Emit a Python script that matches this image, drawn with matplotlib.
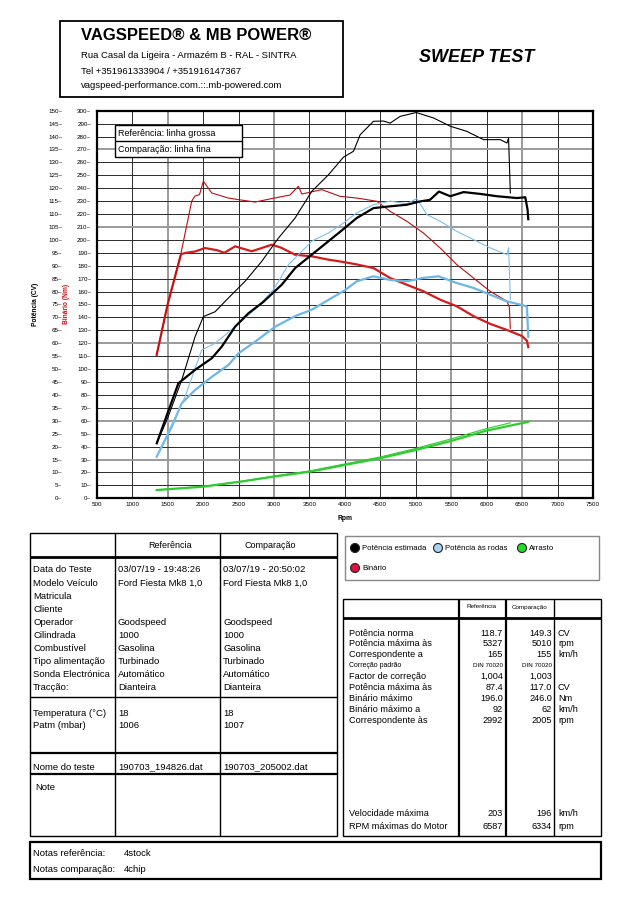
import matplotlib
matplotlib.use("Agg")
import matplotlib.pyplot as plt
from matplotlib.patches import Rectangle, Circle
from matplotlib.ticker import FuncFormatter

plt.rcParams['font.family'] = ['Liberation Sans', 'DejaVu Sans']

# --- curves (rpm / value) ---
# torque, Nm  (ref = thick line, cmp = thin line)
ref_torque_rpm = [1346, 1500, 1690, 1760, 1887, 2028, 2200, 2300, 2452, 2687, 2970, 3100, 3299,
                  3534, 3769, 3980, 4169, 4404, 4639, 4875, 5109, 5345, 5580, 5815, 6050, 6286,
                  6498, 6568, 6587]
ref_torque_nm = [111, 150, 189, 190, 191, 193.7, 192, 190, 195, 191.2, 196.3, 194, 188.5,
                 187.3, 184.7, 182.9, 181, 178.2, 170.5, 165.3, 160.2, 153.7, 148.6, 141, 135, 130.3,
                 125.6, 122, 117]
cmp_torque_rpm = [1346, 1500, 1690, 1840, 1887, 1950, 2004, 2123, 2358, 2520, 2734, 2970, 3225,
                  3346, 3393, 3675, 3934, 4169, 4451, 4639, 4875, 5109, 5345, 5580, 5815, 6050,
                  6286, 6320, 6334]
cmp_torque_nm = [111, 150, 190, 230, 234, 235, 245.5, 236.3, 232.4, 231, 229.3, 232, 234.7,
                 241.5, 235.5, 238.9, 233.7, 232.4, 229.9, 222.1, 214.4, 205.3, 193.7, 180.8, 170.5,
                 160.2, 152.5, 148, 131.5]

# estimated power, CV
ref_power_rpm = [1347, 1500, 1652, 1887, 2123, 2264, 2452, 2640, 2850, 3111, 3299, 3534, 3769,
                 3950, 4169, 4404, 4639, 4875, 5063, 5200, 5327, 5486, 5674, 5909, 6145, 6427,
                 6545, 6577, 6587]
ref_power_cv = [21.3, 33, 44.5, 49.7, 54.2, 58.7, 66.4, 71.6, 76, 82.7, 89.1, 94.3, 99.5,
                103.5, 108.5, 112.3, 113, 113.6, 114.9, 115.5, 118.7, 116.9, 118.5, 117.8, 116.9,
                116.2, 116.5, 111.7, 108]
cmp_power_rpm = [1347, 1500, 1700, 1887, 2004, 2170, 2357, 2593, 2828, 3063, 3299, 3534, 3769,
                 3980, 4122, 4216, 4404, 4545, 4639, 4780, 5006, 5250, 5486, 5721, 5956, 6191,
                 6286, 6309, 6334]
cmp_power_cv = [21.3, 31, 45.8, 62.5, 70.3, 72.2, 77.5, 84, 91.7, 100.7, 108.5, 118.8, 125.2,
                132, 134.3, 140.7, 145.9, 146, 145.2, 147.8, 149.3, 147.2, 144, 142, 138.8, 138.8,
                137.5, 139.4, 118.2]

# wheel power, CV
ref_wheel_rpm = [1346, 1558, 1700, 1887, 2123, 2358, 2499, 2734, 3016, 3299, 3534, 3750, 4000,
                 4169, 4404, 4639, 4875, 5109, 5321, 5580, 5815, 6050, 6286, 6498, 6568, 6587]
ref_wheel_cv = [16.1, 27.7, 36.8, 41.9, 47, 51.6, 56.1, 60.6, 66.4, 70.5, 73, 76.5, 80.5,
                84, 85.9, 84.5, 84, 85.3, 85.9, 83.3, 81.4, 78.8, 76.2, 74.8, 74.2, 62.5]
cmp_wheel_rpm = [1346, 1550, 1746, 1981, 2170, 2452, 2750, 3000, 3204, 3534, 3769, 3980, 4169,
                 4404, 4639, 4875, 5016, 5157, 5345, 5580, 5815, 6050, 6286, 6310, 6334]
cmp_wheel_cv = [16.1, 28, 39.3, 57.4, 60, 66.4, 73.5, 81, 90.4, 99.5, 102.7, 106.5, 110.5,
                113.6, 115, 114, 116, 109.8, 107.2, 103.3, 100.1, 96.9, 94.3, 97, 77]

# drag, CV
ref_drag_rpm = [1346, 2003, 2520, 3000, 3507, 4000, 4500, 5000, 5500, 6000, 6587]
ref_drag_cv = [3.2, 4.5, 6.4, 8.4, 10.3, 12.9, 15.5, 18.7, 22.2, 26.2, 29.6]
cmp_drag_rpm = [1346, 2003, 2520, 3000, 3507, 4000, 4500, 5000, 5500, 6000, 6334]
cmp_drag_cv = [3.2, 4.6, 6.5, 8.6, 10.6, 13.3, 16.0, 19.3, 23, 27, 29.2]

rpm_ticks = list(range(500, 7501, 500))
nm_ticks = list(range(0, 301, 10))
cv_ticks = list(range(0, 151, 5))
rpm_gray = [1500, 3000, 5500, 6500]
nm_gray = [30, 60, 120, 210, 270]

# --- tables ---
info_labels = ["Data do Teste", "Modelo Veículo", "Matricula", "Cliente", "Operador", "Cilindrada",
               "Combustível", "Tipo alimentação", "Sonda Electrónica", "Tracção:"]
info_ref = ["03/07/19 - 19:48:26", "Ford Fiesta Mk8 1,0", "", "", "Goodspeed", "1000",
            "Gasolina", "Turbinado", "Automático", "Dianteira"]
info_cmp = ["03/07/19 - 20:50:02", "Ford Fiesta Mk8 1,0", "", "", "Goodspeed", "1000",
            "Gasolina", "Turbinado", "Automático", "Dianteira"]
env_labels = ["Temperatura (°C)", "Patm (mbar)"]
env_ref = ["18", "1006"]
env_cmp = ["18", "1007"]
test_names = ["190703_194826.dat", "190703_205002.dat"]

res_labels = ["Potência norma", "Potência máxima às", "Correspondente a", "Correção padrão",
              "Factor de correção", "Potência máxima às", "Binário máximo", "Binário máximo a",
              "Correspondente às"]
res_ref = ["118.7", "5327", "165", "DIN 70020", "1,004", "87.4", "196.0", "92", "2992"]
res_cmp = ["149.3", "5010", "155", "DIN 70020", "1,003", "117.0", "246.0", "62", "2005"]
res_units = ["CV", "rpm", "km/h", "", "", "CV", "Nm", "km/h", "rpm"]
end_labels = ["Velocidade máxima", "RPM máximas do Motor"]
end_ref = ["203", "6587"]
end_cmp = ["196", "6334"]
end_units = ["km/h", "rpm"]

legend_items = [("Potência estimada", "#000000"), ("Potência às rodas", "#a9d3f2"),
                ("Arrasto", "#22dd22"), ("Binário", "#e0103a")]

W, H = 636, 900
fig = plt.figure(figsize=(W / 100, H / 100), dpi=100)

# ---------------- chart ----------------
x0, x1, y0, y1 = 96.7, 593.0, 498.3, 110.7
ax = fig.add_axes([x0 / W, 1 - y0 / H, (x1 - x0) / W, (y0 - y1) / H])
ax.set_xlim(500, 7500)
ax.set_ylim(0, 300)
for r in rpm_ticks:
    g = r in rpm_gray
    ax.axvline(r, color='#9a9a9a' if g else '#2a2a2a', lw=1.4 if g else 0.7, zorder=0)
for n in nm_ticks:
    g = n in nm_gray
    ax.axhline(n, color='#9a9a9a' if g else '#2a2a2a', lw=1.4 if g else 0.7, zorder=0)
for s in ax.spines.values():
    s.set_linewidth(1.6)
ax.set_xticks(rpm_ticks)
ax.set_yticks(nm_ticks)
ax.tick_params(axis='both', length=0, labelsize=4.5)
ax.tick_params(axis='y', pad=4)
ax.tick_params(axis='x', pad=3)
ax.yaxis.set_major_formatter(FuncFormatter(lambda v, p: f"{v:.0f}\u2013"))

axc = ax.twinx()
axc.set_ylim(0, 150)
axc.set_yticks(cv_ticks)
axc.yaxis.tick_left()
axc.tick_params(axis='y', length=0, labelsize=4.5, pad=25)
axc.yaxis.set_major_formatter(FuncFormatter(lambda v, p: f"{v:.0f}\u2013"))
for s in axc.spines.values():
    s.set_visible(False)

thick, thin = 1.6, 0.8
axc.plot(ref_drag_rpm, ref_drag_cv, color='#2ecc2e', lw=thick)
axc.plot(cmp_drag_rpm, cmp_drag_cv, color='#2ecc2e', lw=thin)
axc.plot(ref_wheel_rpm, ref_wheel_cv, color='#6db6e8', lw=thick)
axc.plot(cmp_wheel_rpm, cmp_wheel_cv, color='#7dbfea', lw=thin)
ax.plot(ref_torque_rpm, ref_torque_nm, color='#d41c1c', lw=thick)
ax.plot(cmp_torque_rpm, cmp_torque_nm, color='#b81010', lw=thin)
axc.plot(ref_power_rpm, ref_power_cv, color='black', lw=thick)
axc.plot(cmp_power_rpm, cmp_power_cv, color='black', lw=thin)

fig.text(35.5 / W, 1 - 304 / H, "Potência (CV)", rotation=90, ha='center', va='center',
         fontsize=4.8, fontweight='bold')
fig.text(67 / W, 1 - 304 / H, "Binário (Nm)", rotation=90, ha='center', va='center',
         fontsize=4.8, fontweight='bold', color='#cc1111')
fig.text(345 / W, 1 - 519 / H, "Rpm", ha='center', va='center', fontsize=4.8, fontweight='bold')

# ---------------- page overlay (pixel coords) ----------------
pg = fig.add_axes([0, 0, 1, 1], zorder=5)
pg.set_xlim(0, W)
pg.set_ylim(H, 0)
pg.axis('off')


def box(x, y, w, h, lw=1.0, ec='black', fc='none'):
    pg.add_patch(Rectangle((x, y), w, h, lw=lw, ec=ec, fc=fc))


def hl(y, xa, xb, lw=1.0):
    pg.plot([xa, xb], [y, y], color='black', lw=lw, solid_capstyle='butt')


def vl(x, ya, yb, lw=1.0):
    pg.plot([x, x], [ya, yb], color='black', lw=lw, solid_capstyle='butt')


def txt(x, y, s, size=7, **kw):
    pg.text(x, y, s, fontsize=size, va='center', **kw)


# header
box(60, 21, 283, 76, lw=1.3)
txt(81, 35, "VAGSPEED® & MB POWER®", size=12, fontweight='bold')
txt(81, 56, "Rua Casal da Ligeira - Armazém B - RAL - SINTRA", size=6.8)
txt(81, 71, "Tel +351961333904 / +351916147367", size=6.8)
txt(81, 86, "vagspeed-performance.com.::.mb-powered.com", size=6.8)
txt(477, 58, "SWEEP TEST", size=13, fontweight='bold', style='italic', ha='center')

# legend inside chart
box(115, 125, 127, 32, lw=1.0, fc='white')
hl(141, 115, 242, lw=1.0)
txt(118, 133, "Referência: linha grossa", size=6.5)
txt(118, 149, "Comparação: linha fina", size=6.5)

# left table
box(30, 533, 307, 303, lw=1.0)
vl(115, 533, 836)
vl(220, 533, 836)
hl(557, 30, 337, lw=2)
hl(697, 30, 337, lw=1)
hl(753, 30, 337, lw=1.6)
hl(774, 30, 337, lw=1.6)
txt(170, 545, "Referência", size=6.5, ha='center')
txt(270, 545, "Comparação", size=6.5, ha='center')
for i, lab in enumerate(info_labels):
    y = 570 + i * 13.1
    txt(33, y, lab, size=6.8)
    txt(118, y, info_ref[i], size=6.8)
    txt(223, y, info_cmp[i], size=6.8)
for i, lab in enumerate(env_labels):
    y = 713 + i * 13
    txt(33, y, lab, size=6.8)
    txt(118, y, env_ref[i], size=6.8)
    txt(223, y, env_cmp[i], size=6.8)
txt(33, 767, "Nome do teste", size=6.8)
txt(118, 767, test_names[0], size=6.8)
txt(223, 767, test_names[1], size=6.8)
txt(35, 787, "Note", size=6.8)

# legend box right
box(345, 536, 254, 44, lw=1.0, ec='#888888')
lpos = [(355, 548), (438, 548), (522, 548), (355, 568)]
for (lab, col), (lx, ly) in zip(legend_items, lpos):
    pg.add_patch(Circle((lx, ly), 4.5, fc=col, ec='#222222', lw=0.8))
    txt(lx + 7, ly, lab, size=5.6)

# right table
box(343, 599, 258, 237, lw=1.0)
vl(459, 599, 836, lw=1.6)
vl(506, 599, 836, lw=1.6)
vl(554, 599, 836, lw=1.0)
hl(618, 343, 601, lw=2)
txt(482, 607, "Referência", size=4.5, ha='center')
txt(530, 607, "Comparação", size=4.5, ha='center')
for i, lab in enumerate(res_labels):
    y = 633 + i * 10.9
    small = res_ref[i].startswith("DIN")
    txt(349, y, lab, size=5 if small else 6.6)
    txt(503, y, res_ref[i], size=4.5 if small else 6.6, ha='right')
    txt(552, y, res_cmp[i], size=4.5 if small else 6.6, ha='right')
    txt(558, y, res_units[i], size=6.6)
for i, lab in enumerate(end_labels):
    y = 814 + i * 12.5
    txt(349, y, lab, size=6.6)
    txt(503, y, end_ref[i], size=6.6, ha='right')
    txt(552, y, end_cmp[i], size=6.6, ha='right')
    txt(558, y, end_units[i], size=6.6)

# notes
box(30, 842, 571, 37, lw=1.6)
txt(33, 854, "Notas referência:", size=6.8)
txt(124, 854, "4stock", size=6.8)
txt(33, 869, "Notas comparação:", size=6.8)
txt(124, 869, "4chip", size=6.8)

fig.savefig("out.png", dpi=100)
